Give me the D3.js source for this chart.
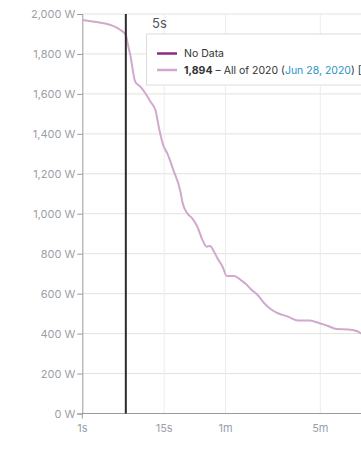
<!DOCTYPE html>
<html>
<head>
<meta charset="utf-8">
<script src="https://cdn.jsdelivr.net/npm/d3@7.9.0/dist/d3.min.js"></script>
<style>
  body { margin: 0; background: #fff; font-family: Inter, "Noto Sans", sans-serif; }
  svg { display: block; }
</style>
</head>
<body>
<svg id="chart" width="361" height="449"></svg>
<script>
// power curve (seconds -> watts)
const seconds = [1, 2, 3, 4.2, 5, 5.3, 5.75, 6.7, 7.8, 9, 10.4, 11.9, 13, 14.6, 16.2, 17.6, 18.9,
  22.5, 23.5, 26.4, 29.6, 33.2, 37.1, 40.7, 43.7, 47.5, 51, 56.5, 61.6, 71, 80.7, 88.7, 97.2, 109.6,
  123, 138, 155, 183, 214, 256, 297, 336, 378, 444, 497, 538, 620];
const watts = [1970, 1957, 1945, 1920, 1894, 1853, 1795, 1661, 1636, 1603, 1561, 1519, 1436, 1344, 1303, 1261, 1219,
  1110, 1060, 1002, 977, 935, 869, 835, 839, 810, 777, 735, 688, 688, 668, 648, 622, 593,
  552, 522, 502, 485, 465, 465, 452, 438, 423, 421, 413, 398, 385];

const yTicks = d3.range(0, 2001, 200);
const xTickSecs = [1, 15, 60, 300];
const xTickLabels = ['1s', '15s', '1m', '5m'];
const markerSec = 5;
const markerLabel = '5s';

const svg = d3.select('#chart');
const width = 361, height = 449;

// x looks like a power scale with a small exponent
const x = d3.scalePow().exponent(0.19).domain([1, 300]).range([82.3, 320.3]);
const y = d3.scaleLinear().domain([0, 2000]).range([413.5, 14]);

const grid = svg.append('g');
grid.selectAll('line.h')
  .data(yTicks.filter(d => d > 0))
  .join('line')
  .attr('x1', x(1)).attr('x2', width)
  .attr('y1', d => y(d)).attr('y2', d => y(d))
  .attr('stroke', '#e2e2e2').attr('stroke-width', 1);
grid.selectAll('line.v')
  .data(xTickSecs.slice(1))
  .join('line')
  .attr('x1', d => x(d)).attr('x2', d => x(d))
  .attr('y1', y(2000)).attr('y2', y(0))
  .attr('stroke', '#ececec').attr('stroke-width', 1);

// y axis
const yAxis = d3.axisLeft(y)
  .tickValues(yTicks)
  .tickSize(5)
  .tickFormat(d => d3.format(',')(d) + ' W');
const yg = svg.append('g').attr('transform', `translate(${x(1)},0)`).call(yAxis);
yg.select('.domain').attr('stroke', '#9a9a9a');
yg.selectAll('.tick line').attr('stroke', '#9a9a9a');
yg.selectAll('.tick text')
  .attr('fill', '#9aa0a8').attr('font-size', 11).attr('font-family', 'Inter, sans-serif').attr('x', -7);

// x axis
const xg = svg.append('g').attr('transform', `translate(0,${y(0)})`);
xg.append('line')
  .attr('x1', x(1)).attr('x2', width)
  .attr('y1', 0).attr('y2', 0)
  .attr('stroke', '#9a9a9a');
xg.append('line')
  .attr('x1', x(1)).attr('x2', x(1))
  .attr('y1', 0).attr('y2', 5)
  .attr('stroke', '#9a9a9a');
xg.selectAll('text')
  .data(xTickSecs)
  .join('text')
  .attr('x', d => x(d))
  .attr('y', 18)
  .attr('text-anchor', 'middle')
  .attr('fill', '#9aa0a8')
  .attr('font-size', 11)
  .text((d, i) => xTickLabels[i]);

// curve
const line = d3.line()
  .x((d, i) => x(seconds[i]))
  .y(d => y(d))
  .curve(d3.curveMonotoneX);
svg.append('path')
  .datum(watts)
  .attr('d', line)
  .attr('fill', 'none')
  .attr('stroke', '#d2a8cc')
  .attr('stroke-width', 2)
  .attr('stroke-linejoin', 'round');

// marker
svg.append('line')
  .attr('x1', x(markerSec)).attr('x2', x(markerSec))
  .attr('y1', y(2000)).attr('y2', y(0))
  .attr('stroke', '#2b2b2b').attr('stroke-width', 2);

svg.append('text')
  .attr('x', 152).attr('y', 28)
  .attr('fill', '#555')
  .attr('font-size', 13)
  .text(markerLabel);

// legend box
const lg = svg.append('g');
lg.append('rect')
  .attr('x', 146.5).attr('y', 34)
  .attr('width', 240).attr('height', 51)
  .attr('fill', '#fff').attr('stroke', '#dcdcdc');

lg.append('line')
  .attr('x1', 157).attr('x2', 177).attr('y1', 53.5).attr('y2', 53.5)
  .attr('stroke', '#8b2d80').attr('stroke-width', 2.5);
lg.append('text')
  .attr('x', 184).attr('y', 57)
  .attr('font-size', 10.5).attr('fill', '#333')
  .text('No Data');

lg.append('line')
  .attr('x1', 157).attr('x2', 177).attr('y1', 70).attr('y2', 70)
  .attr('stroke', '#d2a8cc').attr('stroke-width', 2.5);
const t2 = lg.append('text')
  .attr('x', 184).attr('y', 73.5)
  .attr('font-size', 10.5).attr('fill', '#333');
t2.append('tspan').attr('font-weight', 'bold').text('1,894');
t2.append('tspan').text(' – All of 2020 (');
t2.append('tspan').attr('fill', '#2a94c4').text('Jun 28, 2020');
t2.append('tspan').text(') [');
</script>
</body>
</html>
